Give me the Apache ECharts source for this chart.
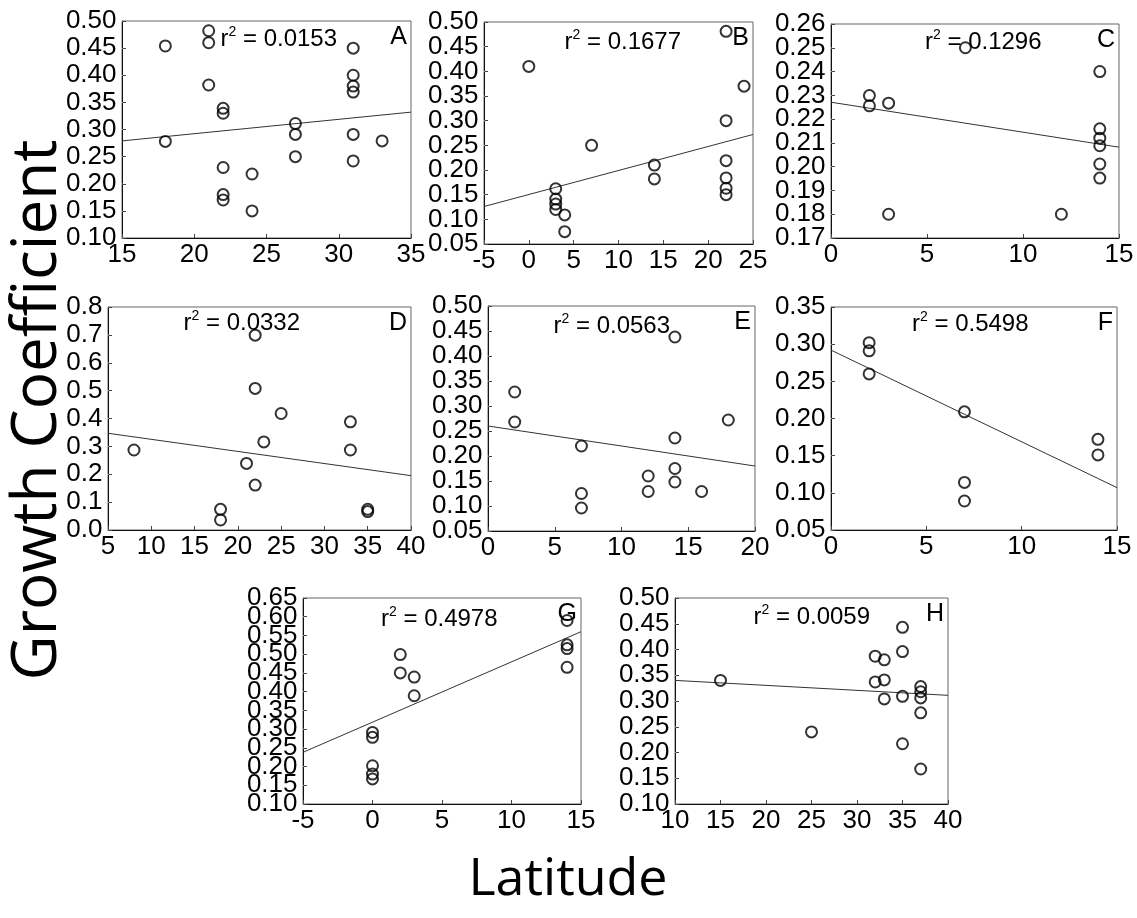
<!DOCTYPE html>
<html>
<head>
<meta charset="utf-8">
<script src="https://cdn.jsdelivr.net/npm/echarts@6/dist/echarts.min.js"></script>
<style>
  html, body { margin: 0; padding: 0; background: #fff; }
  #chart { width: 1137px; height: 918px; }
</style>
</head>
<body>
<div id="chart"></div>
<script>
// Growth coefficient vs. latitude, one scatter per group (A–H) with its linear fit.
const panelNames = ['A', 'B', 'C', 'D', 'E', 'F', 'G', 'H'];

const ptsA = [[18,0.454],[18,0.278],[21,0.482],[21,0.46],[21,0.382],[22,0.339],[22,0.33],[22,0.23],
  [22,0.18],[22,0.17],[24,0.218],[24,0.15],[27,0.311],[27,0.291],[27,0.25],[31,0.45],[31,0.40],
  [31,0.38],[31,0.369],[31,0.291],[31,0.242],[33,0.279]];
const ptsB = [[0,0.41],[3,0.162],[3,0.141],[3,0.131],[3,0.12],[4,0.109],[4,0.075],[7,0.25],
  [14,0.21],[14,0.182],[22,0.481],[22,0.30],[22,0.219],[22,0.184],[22,0.163],[22,0.15],[24,0.37]];
const ptsC = [[2,0.2299],[2,0.2256],[3,0.2267],[3,0.18],[7,0.25],[12,0.18],[14,0.24],[14,0.2159],
  [14,0.212],[14,0.2088],[14,0.2011],[14,0.1952]];
const ptsD = [[8,0.287],[18,0.074],[18,0.036],[21,0.239],[22,0.699],[22,0.508],[22,0.161],[23,0.316],
  [25,0.418],[33,0.388],[33,0.287],[35,0.074],[35,0.066]];
const ptsE = [[2,0.328],[2,0.268],[7,0.22],[7,0.125],[7,0.096],[12,0.16],[12,0.129],[14,0.438],
  [14,0.236],[14,0.175],[14,0.148],[16,0.129],[18,0.272]];
const ptsF = [[2,0.302],[2,0.291],[2,0.26],[7,0.209],[7,0.114],[7,0.089],[14,0.172],[14,0.151]];
const ptsG = [[0,0.291],[0,0.278],[0,0.202],[0,0.18],[0,0.167],[2,0.499],[2,0.45],[3,0.439],[3,0.389],
  [14,0.59],[14,0.525],[14,0.515],[14,0.465]];
const ptsH = [[15,0.34],[25,0.24],[32,0.387],[32,0.337],[33,0.38],[33,0.341],[33,0.304],[35,0.443],
  [35,0.396],[35,0.309],[35,0.217],[37,0.328],[37,0.318],[37,0.306],[37,0.277],[37,0.168]];

// Fitted regression lines (end points across each x range)
const fitA = [[15,0.279],[35,0.332]];
const fitB = [[-5,0.126],[25,0.272]];
const fitC = [[0,0.2271],[15,0.2082]];
const fitD = [[5,0.347],[40,0.195]];
const fitE = [[0,0.26],[20,0.18]];
const fitF = [[0,0.292],[15,0.107]];
const fitG = [[-5,0.238],[15,0.56]];
const fitH = [[10,0.340],[40,0.311]];

const r2Labels = ['0.0153', '0.1677', '0.1296', '0.0332', '0.0563', '0.5498', '0.4978', '0.0059'];

// Y tick labels for each plot
const yTicksA = ['0.10','0.15','0.20','0.25','0.30','0.35','0.40','0.45','0.50'];
const yTicksB = ['0.05','0.10','0.15','0.20','0.25','0.30','0.35','0.40','0.45','0.50'];
const yTicksC = ['0.17','0.18','0.19','0.20','0.21','0.22','0.23','0.24','0.25','0.26'];
const yTicksD = ['0.0','0.1','0.2','0.3','0.4','0.5','0.6','0.7','0.8'];
const yTicksE = ['0.05','0.10','0.15','0.20','0.25','0.30','0.35','0.40','0.45','0.50'];
const yTicksF = ['0.05','0.10','0.15','0.20','0.25','0.30','0.35'];
const yTicksG = ['0.10','0.15','0.20','0.25','0.30','0.35','0.40','0.45','0.50','0.55','0.60','0.65'];
const yTicksH = ['0.10','0.15','0.20','0.25','0.30','0.35','0.40','0.45','0.50'];

// X axis: [min, max, step]
const xRanges = [[15,35,5],[-5,25,5],[0,15,5],[5,40,5],[0,20,5],[0,15,5],[-5,15,5],[10,40,5]];

const allPts = [ptsA, ptsB, ptsC, ptsD, ptsE, ptsF, ptsG, ptsH];
const allFits = [fitA, fitB, fitC, fitD, fitE, fitF, fitG, fitH];
const allYTicks = [yTicksA, yTicksB, yTicksC, yTicksD, yTicksE, yTicksF, yTicksG, yTicksH];

// Plot rectangles
const rects = [
  {left:122, top:21,  width:289, height:217},
  {left:484, top:22,  width:269, height:222},
  {left:831, top:24,  width:288, height:214},
  {left:108, top:307, width:303, height:223},
  {left:488, top:306, width:267, height:225},
  {left:831, top:307, width:286, height:223},
  {left:303, top:598, width:278, height:206},
  {left:675, top:598, width:273, height:206}
];
// fine placement of the r² caption inside each plot
const r2DX = [13, 5, 9, -17, -9, -3, -2, 1];
const r2DY = [4, 6, 4, 2, 6, 3.5, 7, 5];

const FONT = 'Liberation Sans';
const grids = [], xAxes = [], yAxes = [], series = [], graphics = [];

rects.forEach((r, i) => {
  grids.push({ left: r.left, top: r.top, width: r.width, height: r.height,
    show: true, borderColor: '#666', borderWidth: 1, backgroundColor: 'transparent' });
  const xr = xRanges[i];
  const ticks = allYTicks[i].map(Number);
  const yMin = ticks[0], yMax = ticks[ticks.length - 1];
  const yStep = +(ticks[1] - ticks[0]).toFixed(4);
  xAxes.push({
    type: 'value', gridIndex: i, min: xr[0], max: xr[1], interval: xr[2],
    splitLine: { show: false },
    axisLine: { show: true, onZero: false, lineStyle: { color: '#111', width: 1 } },
    axisTick: { show: true, inside: true, length: 4, lineStyle: { color: '#444' } },
    axisLabel: { color: '#000', fontFamily: FONT, fontSize: 26, margin: 4,
      showMinLabel: true, showMaxLabel: true }
  });
  yAxes.push({
    type: 'value', gridIndex: i, min: yMin, max: yMax, interval: yStep,
    splitLine: { show: false },
    axisLine: { show: true, onZero: false, lineStyle: { color: '#111', width: 1 } },
    axisTick: { show: true, inside: true, length: 4, lineStyle: { color: '#444' } },
    axisLabel: { show: false }
  });
  series.push({
    type: 'line', xAxisIndex: i, yAxisIndex: i, data: allFits[i],
    symbol: 'none', silent: true, z: 1,
    lineStyle: { color: '#333', width: 1 }
  });
  series.push({
    type: 'scatter', xAxisIndex: i, yAxisIndex: i, data: allPts[i],
    symbol: 'circle', symbolSize: 11, z: 3,
    itemStyle: { color: 'rgba(0,0,0,0)', borderColor: '#000', borderWidth: 2 }
  });
  // y tick labels, placed on the left axis at each tick value (densely packed, overlaps allowed)
  series.push({
    type: 'scatter', xAxisIndex: i, yAxisIndex: i, silent: true, clip: false, z: 4,
    data: allYTicks[i].map(t => ({ value: [xr[0], Number(t)], name: t })),
    symbol: 'circle', symbolSize: 1,
    itemStyle: { color: '#fff', opacity: 1, borderWidth: 0 },
    label: { show: true, position: 'left', distance: 5, formatter: p => p.name,
      color: '#000', opacity: 1, textBorderWidth: 0, fontFamily: FONT, fontSize: 26 },
    emphasis: { disabled: true },
    labelLayout: { hideOverlap: false }
  });
  graphics.push({
    type: 'text', left: r.left + r.width / 2 + r2DX[i] - 59, top: r.top + r2DY[i], z: 10,
    style: {
      text: '{a|r}{s|2}{a| = ' + r2Labels[i] + '}',
      rich: {
        a: { fontFamily: FONT, fontSize: 24, fill: '#000', lineHeight: 28 },
        s: { fontFamily: FONT, fontSize: 14, fill: '#000', verticalAlign: 'top', lineHeight: 28, padding: [0, 0, 10, 0] }
      }
    }
  });
  graphics.push({
    type: 'text', right: 1137 - (r.left + r.width) + 4, top: r.top + 4, z: 10,
    style: { text: panelNames[i], fontFamily: FONT, fontSize: 25, fill: '#000' }
  });
});

graphics.push({
  type: 'text', x: 38, y: 410, rotation: Math.PI / 2, z: 10,
  style: { text: 'Growth Coefficient', fontFamily: 'Open Sans', fontSize: 62, fill: '#000',
    textAlign: 'center', textVerticalAlign: 'middle' }
});
graphics.push({
  type: 'text', x: 568, y: 880, z: 10,
  style: { text: 'Latitude', fontFamily: 'Open Sans', fontSize: 52, fill: '#000',
    textAlign: 'center', textVerticalAlign: 'middle' }
});

const chart = echarts.init(document.getElementById('chart'), null, { renderer: 'canvas' });
chart.setOption({
  animation: false,
  backgroundColor: '#fff',
  grid: grids, xAxis: xAxes, yAxis: yAxes, series: series,
  graphic: graphics
});
</script>
</body>
</html>
